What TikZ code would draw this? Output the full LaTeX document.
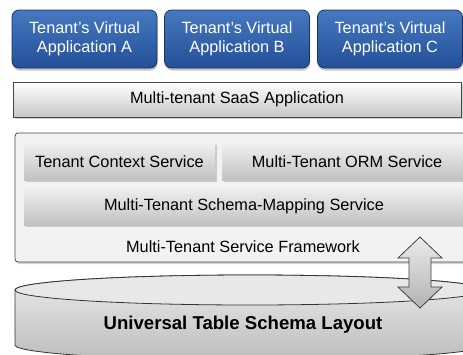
\documentclass[tikz,border=0pt]{standalone}
\usepackage{fontspec}
\setmainfont{Liberation Sans}
\usepackage{tikz}
\usetikzlibrary{calc,shadows}

\definecolor{appblue}{RGB}{70,120,192}
\definecolor{appbluedark}{RGB}{36,80,152}
\definecolor{appline}{RGB}{26,52,96}
\definecolor{barline}{RGB}{70,70,70}

\tikzset{
	txt/.style={font=\fontsize{16.3}{19.5}\selectfont, align=center},
	appbox/.style={txt, draw=appline, line width=0.8pt, rounded corners=7pt,
		top color=appblue, bottom color=appbluedark, text=white,
		minimum width=145pt, minimum height=58pt,
		drop shadow={shadow xshift=0.5pt, shadow yshift=-2.5pt, opacity=0.45}},
	barbox/.style={txt, draw=barline, line width=0.8pt,
		top color=white, bottom color=black!22,
		drop shadow={shadow xshift=1.5pt, shadow yshift=-2pt, opacity=0.35}},
	svcbox/.style={txt, top color=black!6, bottom color=black!24,
		drop shadow={shadow xshift=1.5pt, shadow yshift=-2pt, opacity=0.35}},
}

\begin{document}
\begin{tikzpicture}[x=1pt, y=-1pt]
		%%%%% START %%%%%
		\useasboundingbox (0, 0) rectangle (463, 354);
		
		% tenant applications
		\node[appbox] (appA) at (84.5, 39) {Tenant’s Virtual\\Application A};
		\node[appbox] (appB) at (237, 39) {Tenant’s Virtual\\Application B};
		\node[appbox] (appC) at (390, 39) {Tenant’s Virtual\\Application C};
		
		\node[barbox, minimum width=448pt, minimum height=35pt] (saas) at (237, 99.5) {Multi-tenant SaaS Application};
		
		% framework
		\node[draw=barline, line width=0.8pt, rounded corners=3pt, fill=black!5,
			minimum width=458pt, minimum height=129pt,
			drop shadow={shadow xshift=1.5pt, shadow yshift=-2pt, opacity=0.35}] (frame) at (244, 197.5) {};
		\node[svcbox, minimum width=191pt, minimum height=37pt] (context) at (119.5, 161.5) {Tenant Context Service};
		\node[svcbox, minimum width=250pt, minimum height=37pt] (orm) at (347, 161.5) {Multi-Tenant ORM Service};
		\node[svcbox, minimum width=440pt, minimum height=38pt] (schema) at (244, 206) {Multi-Tenant Schema-Mapping Service};
		\node[txt] (frametxt) at (243, 247) {Multi-Tenant Service Framework};
		
		% table layout store
		\draw[draw=black!80, line width=0.8pt, top color=black!8, bottom color=black!26]
			(15, 290) -- (15, 345) arc[start angle=180, end angle=0, x radius=235, y radius=15]
			-- (485, 290) arc[start angle=0, end angle=-180, x radius=235, y radius=15] -- cycle;
		\draw[draw=black!80, line width=0.8pt, fill=black!9] (250, 290) ellipse[x radius=235, y radius=15];
		\node[font=\fontsize{18.6}{22}\selectfont\bfseries] (layout) at (243, 325) {Universal Table Schema Layout};
		
		% link
		\draw[draw=black!75, line width=0.8pt, top color=black!8, bottom color=black!30]
			(420, 237) -- (442, 258) -- (431, 258) -- (431, 287) -- (442, 287) -- (420, 308)
			-- (398, 287) -- (409, 287) -- (409, 258) -- (398, 258) -- cycle;
		
		%%%%% END %%%%%
\end{tikzpicture}
\end{document}
